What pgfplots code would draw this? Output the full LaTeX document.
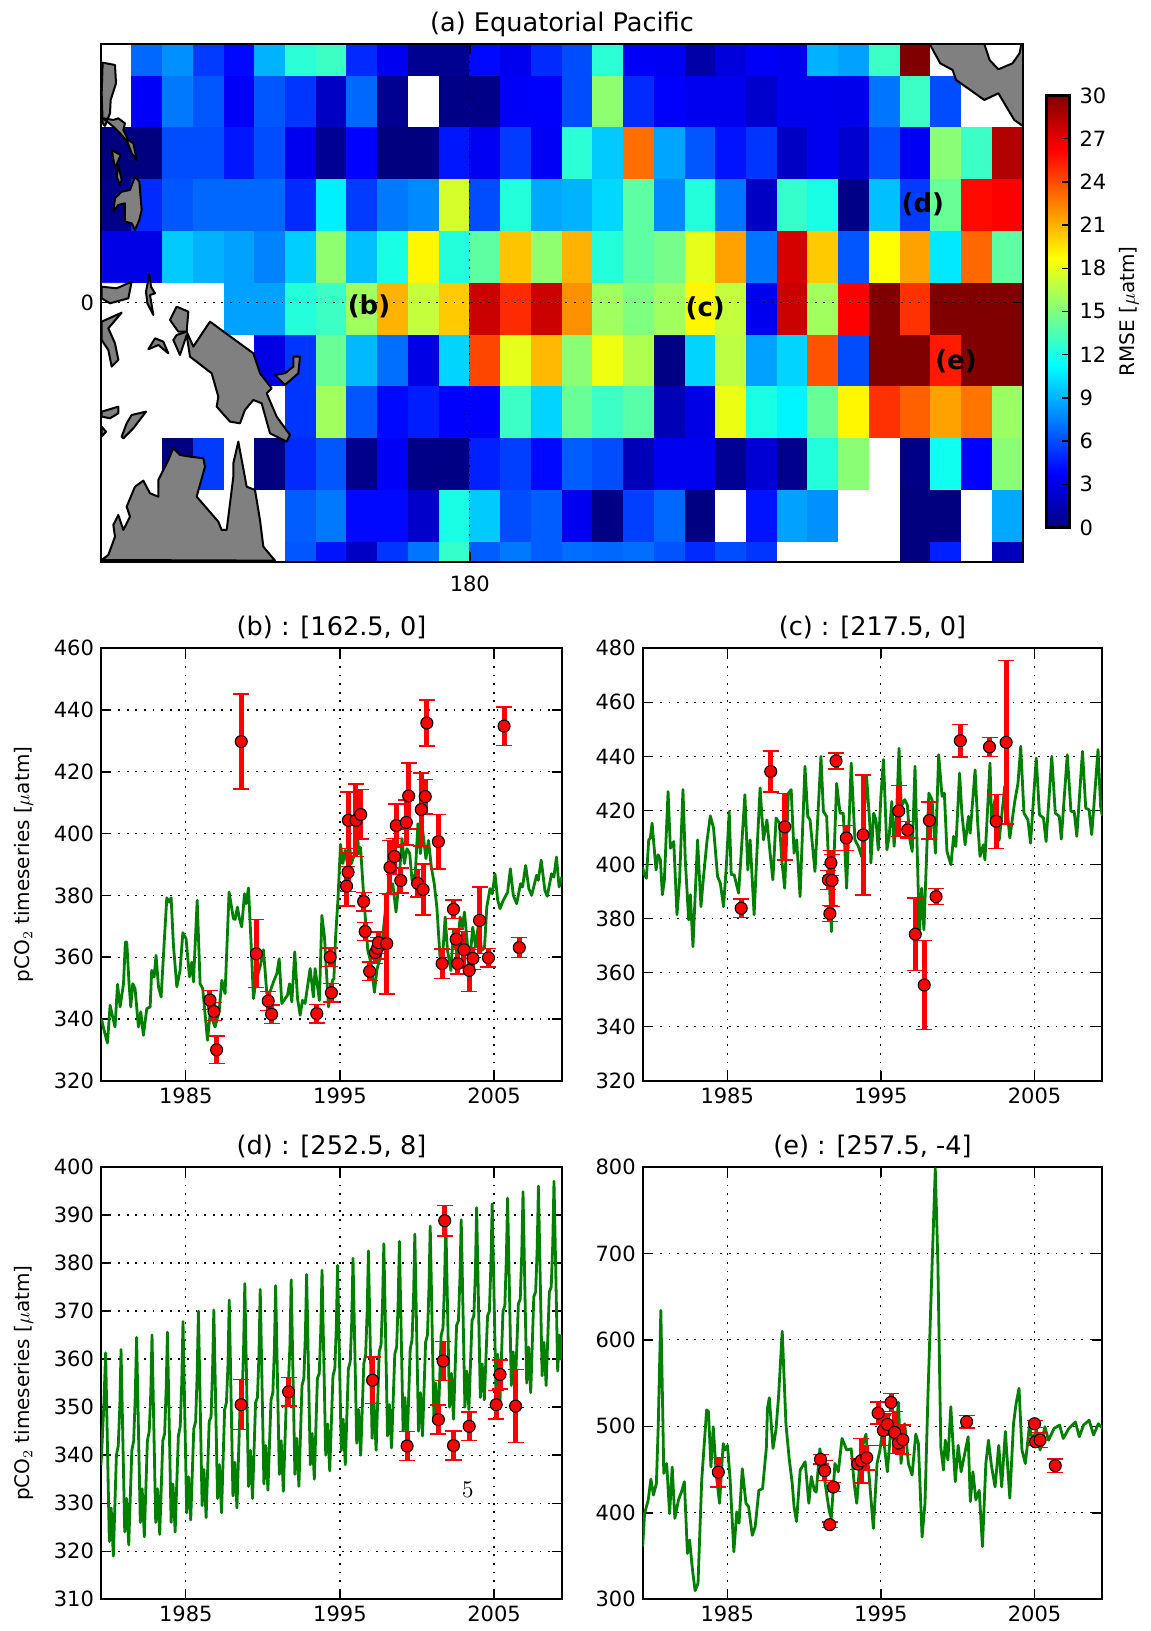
\documentclass[border=0pt]{standalone}
\usepackage{fontspec}
\setmainfont{DejaVu Sans}
\usepackage{pgfplots}
\pgfplotsset{compat=1.18}
\definecolor{mgreen}{rgb}{0,0.5,0}
\definecolor{mgray}{rgb}{0.5,0.5,0.5}
\newcommand\fsz{\fontsize{10.5}{12}\selectfont}
\newcommand\ftl{\fontsize{12.8}{15}\selectfont}
\newcommand\flb{\fontsize{11.5}{13}\selectfont}
\newcommand\Xa{120+(90+\thisrowno{0}/3-101)/6.147}
\newcommand\Ya{(302.7-(20+\thisrowno{1}/3))/12.95}
\newcommand\Yc{(302.7-(290+\thisrowno{1}/3))/12.95}
\newcommand\Xb{120+(600+\thisrowno{0}/2.836-101)/6.147}
\pgfplotsset{
  colormap={jetwhite}{rgb255(0pt)=(255,255,255) rgb255(7.9pt)=(255,255,255) rgb255(8pt)=(0,0,128) rgb255(38pt)=(0,0,255) rgb255(98pt)=(0,255,255) rgb255(158pt)=(255,255,0) rgb255(218pt)=(255,0,0) rgb255(248pt)=(128,0,0)},
  base/.style={
    scale only axis, anchor=south west, clip=true,
    tick align=inside, major tick length=5pt, tick style={black,line width=.7pt},
    axis line style={line width=1pt},
    tick label style={font=\fsz},
    title style={font=\ftl, yshift=-5pt},
    label style={font=\flb},
    /pgf/number format/assume math mode=true,
    /pgf/number format/1000 sep={},
    grid=major, grid style={black,line width=.6pt,dash pattern=on .9pt off 3.4pt},
  },
  panel/.style={base, height=216.2pt,
    xmin=1979.50, xmax=2009.41, xtick={1985,1995,2005},
    every axis y label/.style={at={(axis description cs:-0.1675,0.5)},rotate=90,anchor=center},
  },
  green/.style={color=mgreen, line width=1.4pt, mark=none, line join=round},
  obs/.style={only marks, mark=*, mark size=3pt, mark options={fill=red,draw=black,line width=.55pt},
    error bars/.cd, y dir=both, y explicit,
    error bar style={red,line width=2.5pt},
    error mark options={rotate=90,red,mark size=4pt,line width=.7pt}},
  land/.style={fill=mgray, draw=black, line width=1pt, line join=round},
}
\begin{document}
\begin{tikzpicture}
\path[use as bounding box] (0,0) rectangle (575pt,815.5pt);
% ---------- map
\begin{axis}[base, at={(50.5pt,534.65pt)}, width=461pt, height=259pt,
  xmin=120, xmax=270, ymin=-20, ymax=20, xtick={180}, ytick={0}, axis on top,
  title={(a) Equatorial Pacific}, title style={font=\ftl, yshift=-1pt},
  xticklabel style={yshift=-3.5pt},
  colormap name=jetwhite, point meta min=-1, point meta max=30,
  colorbar, colorbar style={
    at={(1.0255,0.9)}, anchor=north west, scale only axis, width=11.5pt, height=216pt,
    ymin=0, ymax=30, ytick={0,3,...,30}, yticklabel pos=right, ytick pos=right,
    tick align=inside, major tick length=4pt, tick style={black,line width=.7pt},
    axis line style={line width=1.2pt}, tick label style={font=\fsz}, grid=none,
    yticklabel style={xshift=1.5pt},
    /pgf/number format/assume math mode=true,
    ylabel={RMSE [$\mu$atm]}, ylabel style={font=\flb},
    every axis y label/.style={at={(axis description cs:3.6,0.5)},rotate=90,anchor=center},
  }]
\addplot[surf, shader=flat corner, mesh/cols=31, mesh/rows=12, point meta=explicit]
 table[row sep=crcr, header=false, meta index=0,
  x expr={120+5*mod(\coordindex,31)},
  y expr={ifthenelse(floor(\coordindex/31)==0,20,ifthenelse(floor(\coordindex/31)==11,-20,21.5-4*floor(\coordindex/31)))}] {
-1\\6.8\\8\\5.5\\4\\9\\12.5\\13\\5\\3.3\\0.5\\0.5\\4\\3.3\\5\\6\\12.5\\3.6\\3.4\\1.2\\2.8\\3.6\\3.3\\9\\8.5\\13\\30\\-1\\-1\\-1\\-1\\
-1\\3.6\\7.3\\6.3\\3.6\\6.3\\5.3\\2\\6.8\\0.5\\-1\\0.2\\0.2\\3.6\\3.7\\6\\15.5\\5\\3.7\\3.3\\3.3\\2.3\\3.3\\3.3\\3.2\\7.2\\13\\6\\-1\\-1\\-1\\
0\\0\\6\\6\\4.4\\6\\3.3\\0.6\\3.8\\0\\0\\4.4\\3.4\\5.5\\3.5\\12.5\\9.7\\23\\8.6\\6.3\\4.3\\5.3\\2\\3.3\\2.3\\6\\3.4\\15.3\\13\\28.5\\-1\\
0.3\\5\\6.3\\6.8\\6.8\\6.8\\5\\10.8\\5.5\\7.3\\7.8\\17.5\\6\\12.3\\8.7\\9\\10.1\\14\\7.8\\12.3\\7.2\\2\\12.8\\12\\0.2\\9.4\\5.5\\14.3\\26\\26.3\\-1\\
3\\3\\9.7\\9\\8.5\\7.6\\9.8\\15.5\\9.4\\12\\19\\12.3\\14\\20.5\\15.5\\21\\12.3\\14\\14.7\\18\\21.5\\7.2\\27.5\\20.3\\6.3\\18.7\\21.5\\10.6\\23.2\\14\\-1\\
-1\\-1\\-1\\-1\\8.5\\8.5\\12.3\\13\\16\\21\\17\\20.3\\27.8\\25\\27.8\\22\\16\\15\\16\\19\\17\\3.3\\27.8\\16\\26.3\\30\\24.8\\30\\30\\30\\-1\\
-1\\-1\\-1\\-1\\-1\\3\\5.3\\14.3\\9.2\\7\\3\\10\\24.2\\18\\20.8\\15.3\\18.3\\16.4\\0.2\\10\\16.8\\8.5\\10\\23.8\\6\\30\\30\\25.5\\30\\30\\-1\\
-1\\-1\\-1\\-1\\-1\\-1\\5.3\\16\\6.3\\4\\4.6\\3.7\\3.7\\13\\10\\14.3\\13\\13.8\\1.6\\3\\18.2\\12\\11\\14.3\\19\\24.8\\23.4\\21.5\\22.8\\15.8\\-1\\
-1\\-1\\0\\5.5\\-1\\0\\5\\6.3\\0.3\\3.5\\0.2\\0.2\\4.7\\5.6\\4\\6.5\\6\\1.7\\3.3\\3.3\\0.6\\2.5\\0.4\\12.3\\15.3\\-1\\0.2\\11.7\\3.8\\15.3\\-1\\
-1\\-1\\-1\\-1\\-1\\-1\\6.5\\7.3\\4\\4\\2.2\\12\\9.7\\6\\6.5\\3.3\\0.2\\5.6\\6.8\\0.1\\-1\\4.3\\8.5\\8\\-1\\-1\\0\\0\\-1\\8.7\\-1\\
-1\\-1\\-1\\-1\\-1\\-1\\6.3\\4.3\\2\\5.3\\7.2\\12.8\\6.5\\7.3\\6.5\\7\\6.8\\7\\6.2\\5\\6\\5.3\\-1\\-1\\-1\\-1\\0\\4.7\\-1\\1.7\\-1\\
-1\\-1\\-1\\-1\\-1\\-1\\-1\\-1\\-1\\-1\\-1\\-1\\-1\\-1\\-1\\-1\\-1\\-1\\-1\\-1\\-1\\-1\\-1\\-1\\-1\\-1\\-1\\-1\\-1\\-1\\-1\\
};
% land outlines (positions)
\addplot[land] table[row sep=crcr,header=false,x expr=\Xa,y expr=\Ya]{38 128\\75 135\\78 190\\62 240\\60 280\\45 318\\38 310\\35 220\\} --cycle;
\addplot[land] table[row sep=crcr,header=false,x expr=\Xa,y expr=\Ya]{40 295\\70 300\\85 295\\105 310\\100 330\\115 360\\130 370\\140 420\\125 400\\112 365\\90 340\\70 320\\} --cycle;
\addplot[land] table[row sep=crcr,header=false,x expr=\Xa,y expr=\Ya]{65 390\\92 405\\75 445\\} --cycle;
\addplot[land] table[row sep=crcr,header=false,x expr=\Xa,y expr=\Ya]{85 435\\95 480\\90 495\\80 470\\} --cycle;
\addplot[land] table[row sep=crcr,header=false,x expr=\Xa,y expr=\Ya]{135 470\\148 485\\155 570\\148 600\\135 630\\125 610\\105 605\\105 550\\85 555\\70 575\\75 535\\95 515\\120 510\\} --cycle;
\addplot[land] table[row sep=crcr,header=false,x expr=\Xa,y expr=\Ya]{35 800\\80 805\\125 785\\115 835\\60 850\\35 835\\} --cycle;
\addplot[land] table[row sep=crcr,header=false,x expr=\Xa,y expr=\Ya]{178 762\\183 800\\195 820\\180 825\\190 885\\172 850\\168 815\\} --cycle;
\addplot[land] table[row sep=crcr,header=false,x expr=\Xa,y expr=\Yc]{35 95\\95 68\\55 115\\75 160\\85 210\\65 230\\55 180\\35 150\\} --cycle;
\addplot[land] table[row sep=crcr,header=false,x expr=\Xa,y expr=\Yc]{240 90\\260 50\\295 65\\290 125\\265 125\\} --cycle;
\addplot[land] table[row sep=crcr,header=false,x expr=\Xa,y expr=\Yc]{175 178\\195 145\\220 155\\235 190\\205 165\\} --cycle;
\addplot[land] table[row sep=crcr,header=false,x expr=\Xa,y expr=\Yc]{260 135\\290 125\\310 170\\360 95\\490 190\\510 250\\545 295\\530 310\\560 380\\600 435\\590 455\\540 430\\515 340\\490 330\\465 360\\450 400\\420 395\\380 350\\385 320\\365 250\\300 200\\290 135\\270 195\\250 150\\} --cycle;
\addplot[land] table[row sep=crcr,header=false,x expr=\Xa,y expr=\Yc]{555 255\\585 250\\610 230\\610 200\\630 200\\625 250\\585 285\\} --cycle;
\addplot[land] table[row sep=crcr,header=false,x expr=\Xa,y expr=\Yc]{95 440\\110 400\\125 375\\168 365\\130 415\\100 445\\} --cycle;
\addplot[land] table[row sep=crcr,header=false,x expr=\Xa,y expr=\Yc]{35 365\\85 350\\85 370\\60 385\\35 380\\} --cycle;
\addplot[land] table[row sep=crcr,header=false,x expr=\Xa,y expr=\Yc]{35 410\\48 425\\35 440\\} --cycle;
\addplot[land] table[row sep=crcr,header=false,x expr=\Xa,y expr=\Yc]{35 810\\55 795\\75 740\\70 705\\85 675\\100 720\\120 680\\110 650\\135 590\\160 572\\180 610\\205 620\\205 570\\235 510\\250 475\\270 495\\300 500\\340 505\\345 530\\320 620\\385 695\\395 720\\410 720\\430 560\\430 520\\445 455\\470 590\\495 600\\510 690\\520 770\\555 812\\} --cycle;
\addplot[land] table[row sep=crcr,header=false,x expr=\Xb,y expr=\Ya]{935 72\\965 130\\1000 150\\1010 180\\1090 240\\1130 220\\1175 300\\1205 322\\1205 72\\1195 72\\1190 100\\1170 130\\1130 148\\1105 120\\1090 72\\} --cycle;
\node[font=\fontsize{13}{15}\selectfont\bfseries] at (axis cs:163.6,-0.3) {(b)};
\node[font=\fontsize{13}{15}\selectfont\bfseries] at (axis cs:218.3,-0.4) {(c)};
\node[font=\fontsize{13}{15}\selectfont\bfseries] at (axis cs:253.7,7.6) {(d)};
\node[font=\fontsize{13}{15}\selectfont\bfseries] at (axis cs:259.1,-4.55) {(e)};
\end{axis}
% ---------- (b)
\begin{axis}[panel, at={(50.5pt,275.15pt)}, width=230.5pt, ymin=320, ymax=460, ytick={320,340,...,460},
  title={(b) : [162.5, 0]}, ylabel={pCO$_2$ timeseries [$\mu$atm]}]
\addplot[green] coordinates {(1979.50,340)(1979.55,339.6)(1979.70,336.3)(1979.92,332.2)(1980.09,344.4)(1980.26,340.6)(1980.41,337.4)(1980.57,351.2)(1980.74,343.9)(1980.96,351.4)(1981.08,364.9)(1981.17,364.9)(1981.32,351.4)(1981.43,343.9)(1981.56,351.4)(1981.71,349.8)(1981.93,337.4)(1982.08,342.3)(1982.25,334.7)(1982.47,343.3)(1982.69,343.9)(1982.79,355.7)(1982.95,353.6)(1983.07,360.6)(1983.23,350.4)(1983.40,347.1)(1983.62,366.5)(1983.77,379.2)(1983.92,377.8)(1984.05,379.2)(1984.20,363.8)(1984.42,350.4)(1984.63,355.7)(1984.81,367.9)(1985.02,366)(1985.24,353.6)(1985.39,358.4)(1985.50,352)(1985.74,378.4)(1985.93,351.4)(1986.10,349.8)(1986.41,333.1)(1986.58,341.7)(1986.90,337.4)(1987.16,342.3)(1987.34,352.5)(1987.55,348.2)(1987.81,381.1)(1988.09,372.5)(1988.20,372.2)(1988.35,376.2)(1988.48,372.5)(1988.63,369.8)(1988.81,380.5)(1988.92,377.3)(1989.07,382.4)(1989.28,360)(1989.39,346.6)(1989.56,352.5)(1989.82,356.8)(1990.04,362.4)(1990.26,348.2)(1990.47,348.8)(1990.69,352)(1990.91,354.7)(1991.06,359.5)(1991.23,345)(1991.45,346.6)(1991.60,347.7)(1991.73,351.4)(1991.88,345.5)(1992.07,361.7)(1992.25,346.6)(1992.42,341.2)(1992.57,346)(1992.74,345)(1993.07,356.3)(1993.28,347.1)(1993.39,356.3)(1993.67,346)(1993.83,373.5)(1994.0,366.5)(1994.26,343.9)(1994.52,352.5)(1994.61,353)(1994.72,366.5)(1994.87,378.4)(1995.04,396.5)(1995.19,390.3)(1995.34,394.6)(1995.47,390.8)(1995.58,398.4)(1995.75,390.3)(1995.95,393.5)(1996.12,401.6)(1996.23,393.5)(1996.34,395.5)(1996.49,383.8)(1996.66,371.9)(1996.81,362.2)(1997.03,357.8)(1997.24,348.6)(1997.41,356.2)(1997.63,360)(1997.84,369.7)(1998.06,380.5)(1998.28,382.2)(1998.43,383.8)(1998.64,374.6)(1998.81,383.2)(1999.03,398.4)(1999.18,390.3)(1999.35,395.1)(1999.53,393.5)(1999.68,384.9)(1999.89,387)(2000.06,403.2)(2000.22,393.5)(2000.37,401.1)(2000.58,391.9)(2000.75,397.8)(2000.93,389.2)(2001.12,383.8)(2001.29,376.2)(2001.51,358.9)(2001.66,360)(2001.83,373)(2001.98,362.2)(2002.20,355.7)(2002.37,368.6)(2002.59,361)(2002.80,373)(2002.95,369.7)(2003.08,374.6)(2003.28,363.8)(2003.45,360)(2003.62,369.7)(2003.81,363.2)(2003.99,370.8)(2004.20,362.2)(2004.38,363)(2004.53,376.2)(2004.74,382.2)(2004.89,380.5)(2005.06,387)(2005.24,378.4)(2005.39,375.7)(2005.60,378.4)(2005.88,381)(2006.06,388.6)(2006.25,380)(2006.47,377.3)(2006.72,383.8)(2006.85,382.7)(2007.05,389.7)(2007.26,382.2)(2007.44,380)(2007.76,386.5)(2007.87,384.9)(2008.06,391.4)(2008.30,381.6)(2008.45,379.7)(2008.73,387)(2008.88,385.9)(2009.05,392.4)(2009.22,382.7)(2009.41,386)};
\addplot[obs] table[row sep=crcr,y error=e]{x y e\\
1986.57 346.1 3.1\\1986.83 342.4 3\\1987.0 330 4.5\\1988.6 429.8 15.4\\1989.58 361.1 11\\1990.35 345.8 3\\1990.57 341.5 3\\1993.5 341.7 3\\1994.37 360 3\\1994.45 348.5 3\\1995.43 383 6.4\\1995.53 387.5 6.2\\1995.55 404.3 9.2\\1996.04 404.3 11.8\\1996.35 406.2 8\\1996.54 378 3\\1996.64 368.3 3\\1996.93 355.4 3\\1997.3 361.5 3.5\\1997.44 362.9 3.5\\1997.5 364.7 3.5\\1998.04 364.4 16.3\\1998.25 389.1 8.7\\1998.54 392.6 5.9\\1998.66 402.6 7\\1998.95 384.8 4\\1999.31 403.6 7.3\\1999.46 412.2 10.7\\2000.04 383.9 4.4\\2000.28 407.8 11.8\\2000.4 381.9 8.3\\2000.54 412 5.6\\2000.64 435.8 7.5\\2001.39 397.4 8.8\\2001.63 357.9 4.8\\2002.37 375.5 3\\2002.54 365.8 3.3\\2002.64 357.9 3.3\\2003.05 362.4 5.9\\2003.39 355.7 6.8\\2003.63 359.6 3.6\\2004.06 371.9 10.8\\2004.64 359.8 3\\2005.65 434.8 6.2\\2006.64 363.1 3.2\\
};
\end{axis}
% ---------- (c)
\begin{axis}[panel, at={(321.35pt,275.15pt)}, width=229.8pt, ymin=320, ymax=480, ytick={320,340,...,480},
  title={(c) : [217.5, 0]}]
\addplot[green] coordinates {(1979.50,399)(1979.57,396.8)(1979.74,394.9)(1979.89,409.1)(1980.0,409.8)(1980.11,415.3)(1980.22,407.9)(1980.37,398)(1980.50,403.6)(1980.65,401.7)(1980.78,388.8)(1980.91,394.3)(1981.15,427)(1981.30,406)(1981.52,408.5)(1981.73,381.4)(1981.90,394.3)(1982.12,427.7)(1982.27,401.7)(1982.49,379.5)(1982.60,388.8)(1982.77,369.6)(1983.07,409.1)(1983.29,384.4)(1983.46,395.6)(1983.68,408.5)(1983.90,418)(1984.11,413.5)(1984.37,395.6)(1984.55,393.1)(1984.76,384.4)(1984.94,399.3)(1985.13,419.6)(1985.26,396.2)(1985.45,396.2)(1985.74,389.4)(1985.91,404.2)(1986.15,425.8)(1986.34,398)(1986.49,409.1)(1986.75,381.4)(1986.93,404.2)(1987.14,428.3)(1987.36,409.1)(1987.58,416.5)(1987.79,404.2)(1987.97,394.3)(1988.18,417.2)(1988.40,415.3)(1988.55,401.7)(1988.74,391.2)(1988.98,426.4)(1989.16,427.7)(1989.35,404.2)(1989.52,409.1)(1989.74,388.1)(1990.06,436.3)(1990.24,417.8)(1990.39,416.5)(1990.71,397.4)(1991.10,440)(1991.26,419.6)(1991.47,417.8)(1991.78,375.2)(1992.12,430)(1992.34,419)(1992.55,419)(1992.77,391.2)(1993.07,437.5)(1993.31,409.1)(1993.53,406.7)(1993.74,403)(1994.07,432.6)(1994.29,414)(1994.35,400.5)(1994.53,419)(1994.68,416.5)(1994.83,405.4)(1995.0,425.2)(1995.17,438.8)(1995.39,405.4)(1995.54,410.4)(1995.71,423.3)(1995.86,406.7)(1996.03,420.2)(1996.18,443)(1996.33,421.5)(1996.55,424)(1996.72,422)(1996.89,409)(1997.04,404.8)(1997.22,436.3)(1997.43,390.6)(1997.52,375.8)(1997.65,391.2)(1997.80,375.8)(1998.12,426.4)(1998.33,424)(1998.55,404.2)(1998.76,440.6)(1998.98,425.2)(1999.13,426.4)(1999.30,404.8)(1999.56,399.9)(1999.73,410.4)(1999.88,406.7)(2000.12,433.8)(2000.27,419)(2000.48,407.3)(2000.70,417.8)(2000.81,411.6)(2001.13,435)(2001.30,415.3)(2001.45,403)(2001.67,407.3)(2001.77,401.7)(2002.10,437.5)(2002.20,416.5)(2002.42,424)(2002.70,409)(2003.06,429)(2003.39,409.8)(2003.71,423.3)(2003.92,430)(2004.10,443.7)(2004.31,419)(2004.57,416.5)(2004.74,407.9)(2005.11,439.4)(2005.32,418.4)(2005.58,417.2)(2005.75,408.5)(2006.12,440)(2006.35,419)(2006.61,417.8)(2006.74,409.4)(2007.13,440.6)(2007.37,419.6)(2007.58,419.6)(2007.75,410.4)(2008.12,441.9)(2008.33,420.9)(2008.55,420.2)(2008.72,411)(2009.13,442.5)(2009.30,421.5)(2009.41,418)};
\addplot[obs] table[row sep=crcr,y error=e]{x y e\\
1985.91 383.8 3.5\\1987.83 434.4 7.6\\1988.75 413.9 12.3\\1991.58 394.3 3.5\\1991.68 381.8 3\\1991.75 400.6 4.6\\1991.82 394.1 9.7\\1992.08 438.3 3\\1992.75 409.8 4.6\\1993.84 410.9 22.2\\1996.16 419.8 9.4\\1996.74 412.8 3\\1997.24 374.2 13.4\\1997.82 355.4 16.5\\1998.16 416.3 6.8\\1998.59 388.1 3\\2000.17 445.8 6\\2002.07 443.5 3.5\\2002.5 416 10\\2003.15 445.2 30.2\\
};
\end{axis}
% ---------- (d)
\begin{axis}[panel, at={(50.5pt,15.85pt)}, width=230.5pt, ymin=310, ymax=400, ytick={310,320,...,400},
  title={(d) : [252.5, 8]}, ylabel={pCO$_2$ timeseries [$\mu$atm]}]
\addplot[green] coordinates {(1979.50,338)(1979.55,341)(1979.68,350)(1979.80,361.3)
(1980.04,322)(1980.16,329)(1980.30,319)(1980.50,340)(1980.62,342)(1980.72,350)(1980.80,362)
(1981.04,324)(1981.16,331)(1981.30,321.3)(1981.50,341)(1981.62,343)(1981.72,352)(1981.81,364.5)
(1982.05,326)(1982.17,333)(1982.31,323)(1982.51,343)(1982.63,345)(1982.73,353)(1982.81,365)
(1983.05,326)(1983.17,333)(1983.31,323.5)(1983.51,343)(1983.63,344.5)(1983.73,354)(1983.81,365.6)
(1984.05,326)(1984.17,334)(1984.31,324)(1984.52,344)(1984.64,346)(1984.74,355)(1984.82,367.8)
(1985.06,328)(1985.18,335.5)(1985.32,326.5)(1985.52,345.5)(1985.64,347)(1985.74,357)(1985.82,370)
(1986.06,329.5)(1986.18,337)(1986.32,327)(1986.52,347)(1986.64,348)(1986.74,358)(1986.82,370.2)
(1987.06,331)(1987.18,338)(1987.32,328)(1987.52,349.5)(1987.64,351)(1987.74,359)(1987.82,372.3)
(1988.06,331.5)(1988.18,338.5)(1988.32,329)(1988.53,351)(1988.65,352)(1988.75,362)(1988.83,375.7)
(1989.07,333.5)(1989.19,341)(1989.33,331)(1989.53,351)(1989.65,352)(1989.75,361)(1989.83,374.5)
(1990.07,334)(1990.19,342)(1990.33,332.7)(1990.53,351.5)(1990.65,353)(1990.75,362)(1990.83,375.3)
(1991.07,336)(1991.19,343)(1991.33,332.5)(1991.54,353)(1991.66,355)(1991.76,363)(1991.84,376.5)
(1992.08,336)(1992.20,343.5)(1992.34,333.5)(1992.54,354.5)(1992.66,356)(1992.76,365)(1992.84,377.6)
(1993.08,338)(1993.20,344.5)(1993.34,335)(1993.54,356)(1993.66,357)(1993.76,366)(1993.84,378.5)
(1994.08,340)(1994.20,346.5)(1994.34,336.7)(1994.55,356.5)(1994.67,358)(1994.77,367)(1994.85,379.5)
(1995.09,341)(1995.21,347.5)(1995.35,338)(1995.55,358)(1995.67,359.5)(1995.77,368)(1995.85,381)
(1996.09,342.5)(1996.21,349.5)(1996.35,340)(1996.55,359)(1996.67,361)(1996.77,370)(1996.85,382.5)
(1997.09,343.5)(1997.21,351)(1997.35,341)(1997.55,361.5)(1997.67,363)(1997.77,372)(1997.85,384)
(1998.09,344)(1998.21,350.5)(1998.35,341.5)(1998.56,361)(1998.68,362.5)(1998.78,372)(1998.86,384.5)
(1999.10,345)(1999.22,352)(1999.36,342)(1999.56,362)(1999.68,364)(1999.78,373)(1999.86,386)
(2000.10,345)(2000.22,353)(2000.36,344)(2000.56,363.5)(2000.68,365)(2000.78,375)(2000.86,387.7)
(2001.10,347)(2001.22,355)(2001.36,345)(2001.57,365)(2001.69,366.5)(2001.79,376)(2001.87,389)
(2002.11,350)(2002.23,357)(2002.37,347.5)(2002.57,367)(2002.69,368)(2002.79,377)(2002.87,389)
(2003.11,350)(2003.23,357.5)(2003.37,349.5)(2003.57,368)(2003.69,369)(2003.79,378)(2003.87,391.5)
(2004.11,352)(2004.23,359)(2004.37,351.5)(2004.58,369)(2004.70,370)(2004.80,380)(2004.88,392.3)
(2005.12,354)(2005.24,361)(2005.38,350.5)(2005.58,370)(2005.70,371)(2005.80,381)(2005.88,393.5)
(2006.12,354.5)(2006.24,361.5)(2006.38,354)(2006.58,371.5)(2006.70,372.5)(2006.80,382)(2006.88,394.8)
(2007.12,355)(2007.24,362.5)(2007.38,353)(2007.58,373)(2007.70,374)(2007.80,383)(2007.88,396)
(2008.12,356.5)(2008.24,363.5)(2008.38,354.5)(2008.59,374)(2008.71,375)(2008.81,384)(2008.89,397)
(2009.13,357.5)(2009.24,365)(2009.32,360)(2009.41,365)};
\addplot[obs] table[row sep=crcr,y error=e]{x y e\\
1988.59 350.5 5.2\\1991.67 353.2 3\\1997.12 355.6 4.8\\1999.36 341.9 3\\2001.39 347.4 3\\2001.7 359.6 4\\2001.8 388.8 3.2\\2002.37 342 3\\2003.39 346 3\\2005.14 350.5 3\\2005.39 356.8 3\\2006.4 350.2 7.6\\
};
\node[font=\fontsize{12}{14}\selectfont] at (axis cs:2003.3,332.7) {$5$};
\end{axis}
% ---------- (e)
\begin{axis}[panel, at={(321.35pt,15.85pt)}, width=229.8pt, ymin=300, ymax=800, ytick={300,400,...,800},
  title={(e) : [257.5, -4]}]
\addplot[green] coordinates {(1979.50,361)(1979.62,399)(1979.86,415)(1980.03,439)(1980.20,420.6)(1980.39,434)(1980.51,500)(1980.68,634)(1980.82,500)(1980.87,445.6)(1981.06,457)(1981.25,399)(1981.42,453)(1981.59,393.6)(1981.83,415)(1982.02,424)(1982.21,436)(1982.41,353)(1982.55,368.6)(1982.74,334)(1982.91,310)(1983.10,318.5)(1983.34,438)(1983.66,519)(1983.78,517)(1983.94,453)(1984.09,499.5)(1984.30,441.8)(1984.50,411)(1984.74,480)(1984.86,472.6)(1985.02,478)(1985.19,438)(1985.43,355)(1985.62,401)(1985.77,388)(1985.98,451)(1986.22,411)(1986.39,407)(1986.63,374)(1986.82,384)(1987.06,426)(1987.30,428)(1987.55,476)(1987.62,521)(1987.74,533)(1987.98,474.5)(1988.17,495.7)(1988.34,534)(1988.58,610)(1988.82,503)(1989.03,463)(1989.23,434)(1989.35,407)(1989.51,390)(1989.75,449.5)(1990.07,459)(1990.31,411)(1990.47,442)(1990.67,426)(1990.79,424)(1991.03,474)(1991.34,438)(1991.63,403)(1991.77,393.6)(1992.01,457)(1992.23,447.5)(1992.47,486)(1992.78,472.6)(1993.07,474)(1993.26,434)(1993.43,411)(1993.67,468.7)(1994.03,491)(1994.22,445.6)(1994.51,382)(1994.75,457)(1994.94,472.6)(1995.11,495.7)(1995.42,447.5)(1995.66,499.5)(1995.90,476)(1996.14,528)(1996.31,457)(1996.55,503)(1996.79,457)(1997.03,443.7)(1997.27,491)(1997.44,480)(1997.68,372)(1997.87,411)(1998.06,534)(1998.30,669)(1998.54,798)(1998.71,688)(1998.90,476)(1999.07,449.5)(1999.19,484)(1999.36,461)(1999.55,522.7)(1999.84,436)(2000.03,478)(2000.22,447.5)(2000.46,469)(2000.68,488)(2000.82,413)(2000.99,447.5)(2001.18,415)(2001.40,426)(2001.61,361)(2001.83,457)(2002.0,484)(2002.19,455)(2002.43,430)(2002.67,478)(2002.86,430)(2003.10,494)(2003.39,417)(2003.63,503)(2003.80,526.5)(2003.99,544)(2004.18,472.6)(2004.40,457)(2004.66,499.5)(2004.88,484)(2005.12,495.7)(2005.36,472.6)(2005.67,499.5)(2005.91,484)(2006.27,497.6)(2006.63,501.5)(2006.87,486)(2007.23,497.6)(2007.66,505)(2007.91,488)(2008.19,501.5)(2008.55,507)(2008.84,490)(2009.15,503)(2009.41,498)};
\addplot[obs] table[row sep=crcr,y error=e]{x y e\\
1984.42 447 17\\1991.07 461.8 5.5\\1991.34 448.7 11.5\\1991.67 386.3 3.3\\1991.91 429.8 5.4\\1993.5 456.4 6.2\\1993.72 460.2 25.6\\1994.08 463.7 14.4\\1994.82 515.3 12.7\\1995.16 495.3 17.7\\1995.42 502.2 12.5\\1995.66 527.7 10.4\\1995.9 493 24.5\\1996.14 480.6 12\\1996.43 484.5 17\\2000.58 505.3 7.3\\2005.0 503 4\\2005.07 482.2 4\\2005.36 484.1 8.7\\2006.35 454.5 7.7\\
};
\end{axis}
\end{tikzpicture}
\end{document}
